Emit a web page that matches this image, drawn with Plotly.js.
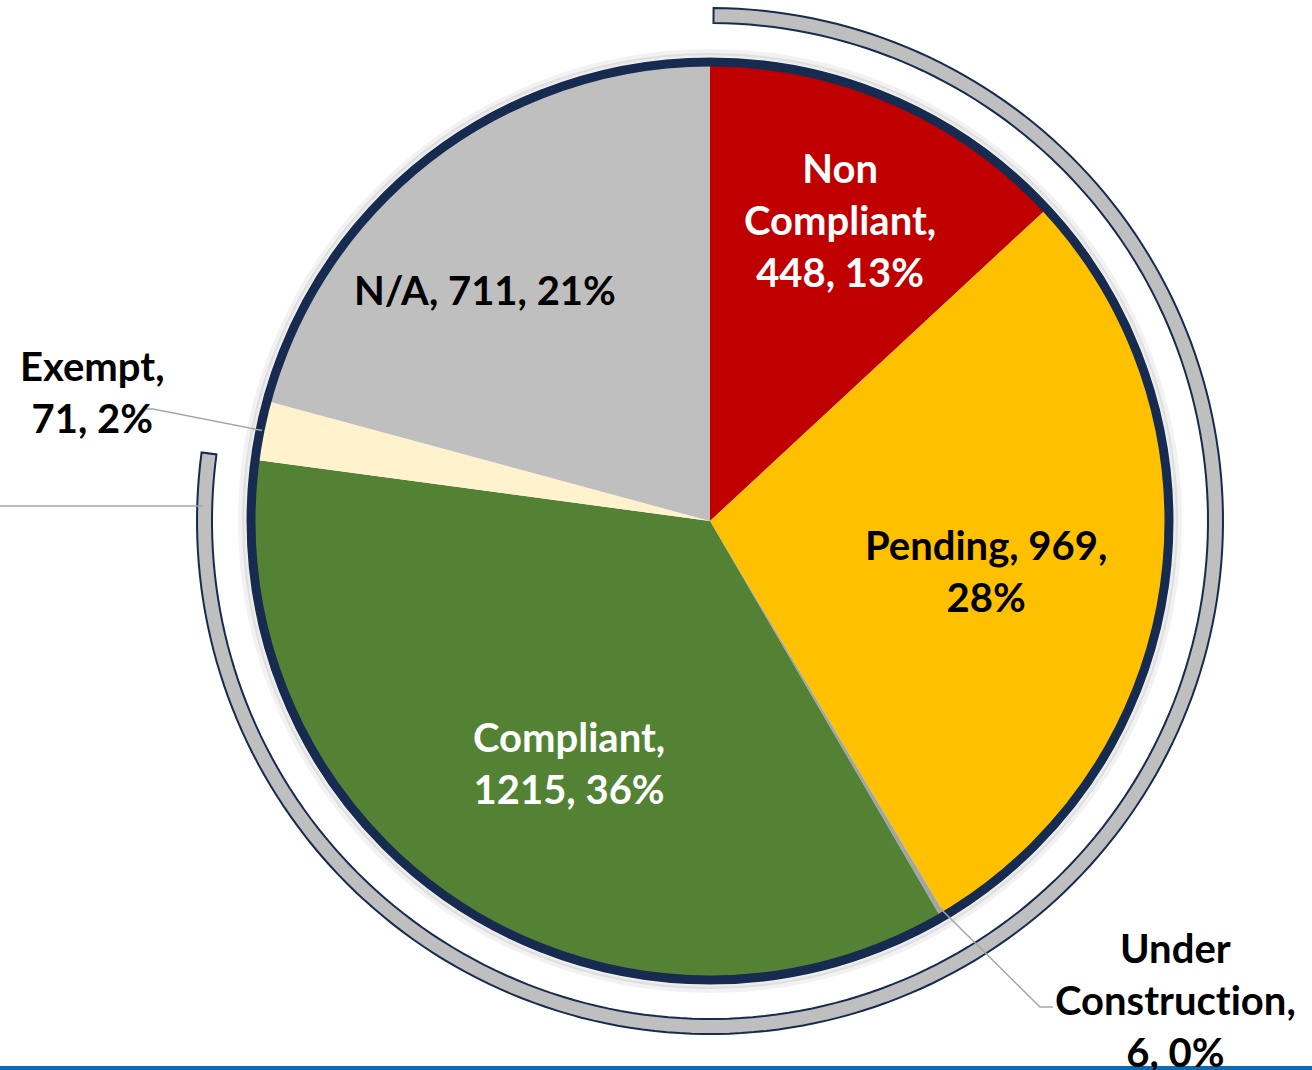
<!DOCTYPE html>
<html>
<head>
<meta charset="utf-8">
<script src="https://cdn.plot.ly/plotly-3.0.1.min.js"></script>
<style>html,body{margin:0;padding:0;background:#fff;}#chart{width:1312px;height:1070px;}text{font-variant-ligatures:none;font-feature-settings:"liga" 0;}</style>
</head>
<body>
<div id="chart"></div>
<script>
// ---- data ----
const categories = ["Non Compliant", "Pending", "Under Construction", "Compliant", "Exempt", "N/A"];
const counts = [448, 969, 6, 1215, 71, 711];
const labelText = ["Non<br>Compliant,", "Pending, 969,", "Under<br>Construction,", "Compliant,<br>1215,", "Exempt,<br>71,", "N/A, 711,"];
const sliceColors = ["#c00000", "#ffc000", "#a5a5a5", "#548235", "#fff2cc", "#bfbfbf"];
const textColors = ["#ffffff", "#000000", "#000000", "#ffffff", "#000000", "#000000"];
const arcGroupCount = 4; // slices covered by the outer arc (first four)

// ---- geometry (pixels) ----
const W = 1312, H = 1070;
const cx = 710, cy = 521, R = 459;
const px = x => x / W;
const py = y => 1 - y / H;

const total = counts.reduce((a, b) => a + b, 0);
const cum = [];
let acc = 0;
counts.forEach(v => { cum.push(acc); acc += v; });
const midAngle = i => (cum[i] + counts[i] / 2) / total * 360;
const pt = (angDeg, r) => {
  const a = angDeg * Math.PI / 180;
  return [cx + r * Math.sin(a), cy - r * Math.cos(a)];
};

const pieTrace = {
  type: "pie",
  labels: categories,
  values: counts,
  sort: false,
  direction: "clockwise",
  rotation: 0,
  marker: { colors: sliceColors, line: { width: 0 } },
  textinfo: "none",
  hoverinfo: "skip",
  showlegend: false,
  domain: { x: [px(cx - R), px(cx + R)], y: [py(cy + R), py(cy - R)] }
};

const shapes = [];
// soft shadow around pie
[[469, 6, "rgba(0,0,0,0.05)"], [466, 4, "rgba(0,0,0,0.08)"]].forEach(([r, w, c]) => {
  shapes.push({ type: "circle", xref: "paper", yref: "paper",
    x0: px(cx - r), x1: px(cx + r), y0: py(cy + r), y1: py(cy - r),
    line: { color: c, width: w }, fillcolor: "rgba(0,0,0,0)", layer: "above" });
});
// navy border
shapes.push({ type: "circle", xref: "paper", yref: "paper",
  x0: px(cx - R), x1: px(cx + R), y0: py(cy + R), y1: py(cy - R),
  line: { color: "#172a4f", width: 9 }, fillcolor: "rgba(0,0,0,0)", layer: "above" });

// outer arc band
const a0 = 0.4;
const a1 = (cum[arcGroupCount - 1] + counts[arcGroupCount - 1]) / total * 360;
const rIn = 498, rOut = 513;
let d = "";
const N = 200;
for (let k = 0; k <= N; k++) {
  const a = a0 + (a1 - a0) * k / N;
  const [x, y] = pt(a, rOut);
  d += (k === 0 ? "M" : "L") + px(x).toFixed(6) + "," + py(y).toFixed(6) + " ";
}
for (let k = N; k >= 0; k--) {
  const a = a0 + (a1 - a0) * k / N;
  const [x, y] = pt(a, rIn);
  d += "L" + px(x).toFixed(6) + "," + py(y).toFixed(6) + " ";
}
d += "Z";
shapes.push({ type: "path", xref: "paper", yref: "paper", path: d,
  fillcolor: "#bfbfbf", line: { color: "#172a4f", width: 2 }, layer: "above" });

// horizontal line to the left of the arc
shapes.push({ type: "line", xref: "paper", yref: "paper",
  x0: px(0), x1: px(203), y0: py(506), y1: py(506),
  line: { color: "#a6a6a6", width: 1.5 } });

// leader lines
function leader(pts) {
  let p = "";
  pts.forEach((q, k) => { p += (k === 0 ? "M" : "L") + px(q[0]).toFixed(6) + "," + py(q[1]).toFixed(6) + " "; });
  shapes.push({ type: "path", xref: "paper", yref: "paper", path: p,
    line: { color: "#a6a6a6", width: 1.5 }, layer: "above" });
}
const exStart = pt(midAngle(4), R - 2);
leader([exStart, [153, 409], [146, 409]]);
const ucStart = pt(midAngle(2), R - 14);
leader([ucStart, [1040, 1007], [1053, 1007]]);

// bottom blue bar
shapes.push({ type: "rect", xref: "paper", yref: "paper",
  x0: 0, x1: 1, y0: py(1070), y1: py(1066), line: { width: 0 }, fillcolor: "#0a6ab4", layer: "above" });

// ---- labels ----
const pct = i => Math.round(counts[i] / total * 100) + "%";
const fullText = i => {
  if (i === 0) return labelText[0] + "<br>" + counts[0] + ", " + pct(0);
  if (i === 1) return labelText[1] + "<br>" + pct(1);
  if (i === 2) return labelText[2] + "<br>" + counts[2] + ", " + pct(2);
  if (i === 3) return labelText[3] + " " + pct(3);
  if (i === 4) return labelText[4] + " " + pct(4);
  return labelText[5] + " " + pct(5);
};
const FS = 40;
// label placement: [radius px, angle offset deg] for inside labels
const inside = { 0: [328, -0.2], 1: [280, 2.1], 3: [280, -3.5], 5: [322, -6.8] };
const annotations = [];
Object.keys(inside).forEach(k => {
  const i = +k;
  const [r, off] = inside[i];
  const [x, y] = pt(midAngle(i) + off, r);
  annotations.push({ xref: "paper", yref: "paper", x: px(x), y: py(y),
    xanchor: "center", yanchor: "middle", showarrow: false,
    text: fullText(i), font: { family: "Lato, sans-serif", size: FS, color: textColors[i], weight: 700 } });
});
annotations.push({ xref: "paper", yref: "paper", x: px(92), y: py(392),
  xanchor: "center", yanchor: "middle", showarrow: false,
  text: fullText(4), font: { family: "Lato, sans-serif", size: FS, color: "#000", weight: 700 } });
annotations.push({ xref: "paper", yref: "paper", x: px(1175), y: py(1000),
  xanchor: "center", yanchor: "middle", showarrow: false,
  text: fullText(2), font: { family: "Lato, sans-serif", size: FS, color: "#000", weight: 700 } });

const layout = {
  width: W, height: H,
  margin: { l: 0, r: 0, t: 0, b: 0 },
  paper_bgcolor: "#ffffff",
  plot_bgcolor: "#ffffff",
  showlegend: false,
  shapes: shapes,
  annotations: annotations
};
Plotly.newPlot("chart", [pieTrace], layout, { displayModeBar: false, staticPlot: true });
</script>
</body>
</html>
